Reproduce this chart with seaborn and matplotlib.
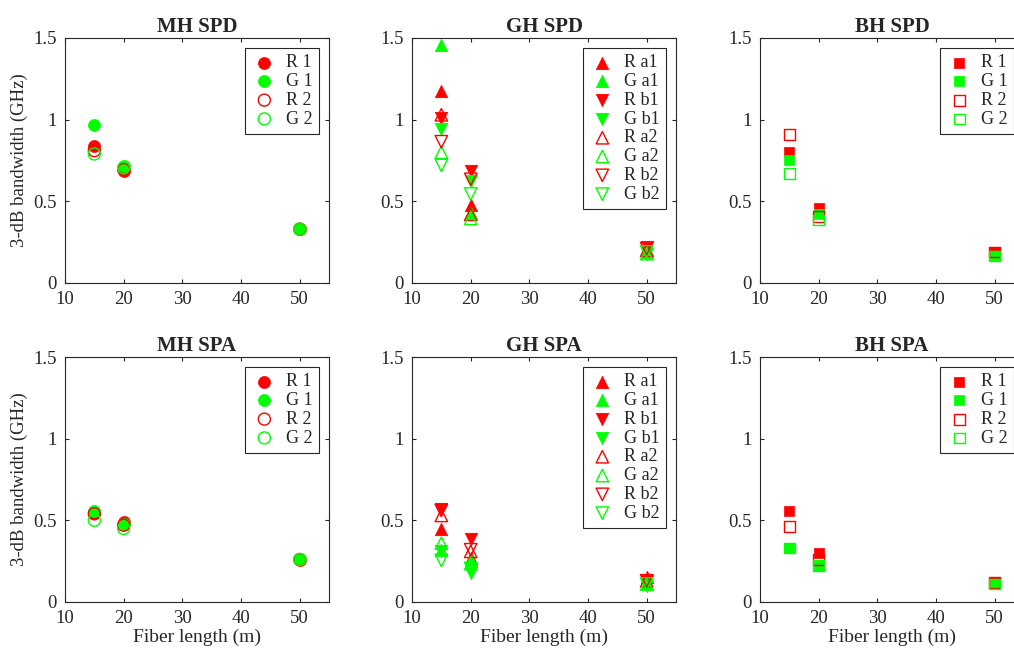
import numpy as np
import pandas as pd
import seaborn as sns
import matplotlib.pyplot as plt

# fibre lengths (m)
lengths = [15, 20, 50]

# MH SPD
mh_spd_r1 = [0.84, 0.685, 0.33]
mh_spd_g1 = [0.965, 0.715, 0.33]
mh_spd_r2 = [0.81, 0.695, 0.33]
mh_spd_g2 = [0.79, 0.705, 0.33]

# MH SPA
mh_spa_r1 = [0.545, 0.49, 0.26]
mh_spa_g1 = [0.56, 0.475, 0.265]
mh_spa_r2 = [0.54, 0.47, 0.26]
mh_spa_g2 = [0.50, 0.45, 0.26]

# GH SPD
gh_spd_ra1 = [1.175, 0.48, 0.20]
gh_spd_ga1 = [1.46, 0.43, 0.19]
gh_spd_rb1 = [1.01, 0.685, 0.22]
gh_spd_gb1 = [0.945, 0.625, 0.18]
gh_spd_ra2 = [1.03, 0.42, 0.20]
gh_spd_ga2 = [0.80, 0.395, 0.18]
gh_spd_rb2 = [0.865, 0.635, 0.21]
gh_spd_gb2 = [0.72, 0.545, 0.19]

# GH SPA
gh_spa_ra1 = [0.45, 0.27, 0.155]
gh_spa_ga1 = [0.32, 0.26, 0.11]
gh_spa_rb1 = [0.57, 0.385, 0.13]
gh_spa_gb1 = [0.31, 0.18, 0.10]
gh_spa_ra2 = [0.53, 0.31, 0.13]
gh_spa_ga2 = [0.36, 0.235, 0.11]
gh_spa_rb2 = [0.56, 0.32, 0.13]
gh_spa_gb2 = [0.255, 0.205, 0.11]

# BH SPD
bh_spd_r1 = [0.80, 0.46, 0.19]
bh_spd_g1 = [0.75, 0.425, 0.165]
bh_spd_r2 = [0.91, 0.405, 0.19]
bh_spd_g2 = [0.67, 0.385, 0.165]

# BH SPA
bh_spa_r1 = [0.56, 0.30, 0.125]
bh_spa_g1 = [0.33, 0.22, 0.11]
bh_spa_r2 = [0.46, 0.26, 0.12]
bh_spa_g2 = [0.33, 0.225, 0.11]

RED = "#ff0000"
GREEN = "#00ff00"

mh_labels = ["R 1", "G 1", "R 2", "G 2"]
gh_labels = ["R a1", "G a1", "R b1", "G b1", "R a2", "G a2", "R b2", "G b2"]

panels = [
    ("MH SPD", mh_labels, [mh_spd_r1, mh_spd_g1, mh_spd_r2, mh_spd_g2]),
    ("GH SPD", gh_labels, [gh_spd_ra1, gh_spd_ga1, gh_spd_rb1, gh_spd_gb1,
                           gh_spd_ra2, gh_spd_ga2, gh_spd_rb2, gh_spd_gb2]),
    ("BH SPD", mh_labels, [bh_spd_r1, bh_spd_g1, bh_spd_r2, bh_spd_g2]),
    ("MH SPA", mh_labels, [mh_spa_r1, mh_spa_g1, mh_spa_r2, mh_spa_g2]),
    ("GH SPA", gh_labels, [gh_spa_ra1, gh_spa_ga1, gh_spa_rb1, gh_spa_gb1,
                           gh_spa_ra2, gh_spa_ga2, gh_spa_rb2, gh_spa_gb2]),
    ("BH SPA", mh_labels, [bh_spa_r1, bh_spa_g1, bh_spa_r2, bh_spa_g2]),
]


def series_style(title, i):
    # (colour, marker, filled) for the i-th series of a panel
    color = RED if i % 2 == 0 else GREEN
    if title.startswith("GH"):
        marker = "^" if (i // 2) % 2 == 0 else "v"
        filled = i < 4
    else:
        marker = "o" if title.startswith("MH") else "s"
        filled = i < 2
    return color, marker, filled


sns.set_style("ticks", {"xtick.direction": "in", "ytick.direction": "in",
                        "axes.edgecolor": "#262626"})
plt.rcParams["font.family"] = ["Liberation Serif", "DejaVu Serif"]
plt.rcParams["font.size"] = 13

fig = plt.figure(figsize=(10.14, 6.57), dpi=100)
W, H = 1014, 657
col_left = [65, 412, 760]
row_bottom = [283, 602]
ax_w, ax_h = 264, 245

for k, (title, labels, series) in enumerate(panels):
    r, c = divmod(k, 3)
    ax = fig.add_axes([col_left[c] / W, 1 - row_bottom[r] / H, ax_w / W, ax_h / H])
    for i, (lab, vals) in enumerate(zip(labels, series)):
        color, marker, filled = series_style(title, i)
        df = pd.DataFrame({"length": lengths, "bw": vals})
        size = 75 if marker == "o" else (60 if marker == "s" else 80)
        if filled:
            sns.scatterplot(data=df, x="length", y="bw", ax=ax, marker=marker,
                            s=size, facecolors=color, edgecolors=color,
                            linewidth=0.5, label=lab, zorder=3)
        else:
            sns.scatterplot(data=df, x="length", y="bw", ax=ax, marker=marker,
                            s=size, facecolors="none", edgecolors=color,
                            linewidth=1.0, label=lab, zorder=3)
    ax.set_xlim(10, 55)
    ax.set_ylim(0, 1.5)
    ax.set_xticks([10, 20, 30, 40, 50])
    ax.set_yticks([0, 0.5, 1, 1.5])
    ax.set_yticklabels(["0", "0.5", "1", "1.5"])
    ax.tick_params(top=True, right=True, length=3, width=0.8,
                   labelsize=13.5, colors="#262626", labelcolor="#262626")
    ax.tick_params(axis="x", pad=6)
    ax.tick_params(axis="y", pad=6)
    for sp in ax.spines.values():
        sp.set_linewidth(0.8)
    ax.set_title(title, fontsize=15, fontweight="bold", pad=4)
    ax.set_xlabel("Fiber length (m)" if r == 1 else "", fontsize=14, labelpad=1)
    ax.set_ylabel("3-dB bandwidth (GHz)" if c == 0 else "", fontsize=13.5,
                  labelpad=4)
    leg = ax.legend(loc="upper right", fancybox=False, framealpha=1,
                    edgecolor="#262626", fontsize=13, labelspacing=0.1,
                    handletextpad=0.5, borderpad=0.35, handlelength=1.4,
                    borderaxespad=0.55)
    leg.get_frame().set_linewidth(0.8)

plt.savefig("out.png", dpi=100)
